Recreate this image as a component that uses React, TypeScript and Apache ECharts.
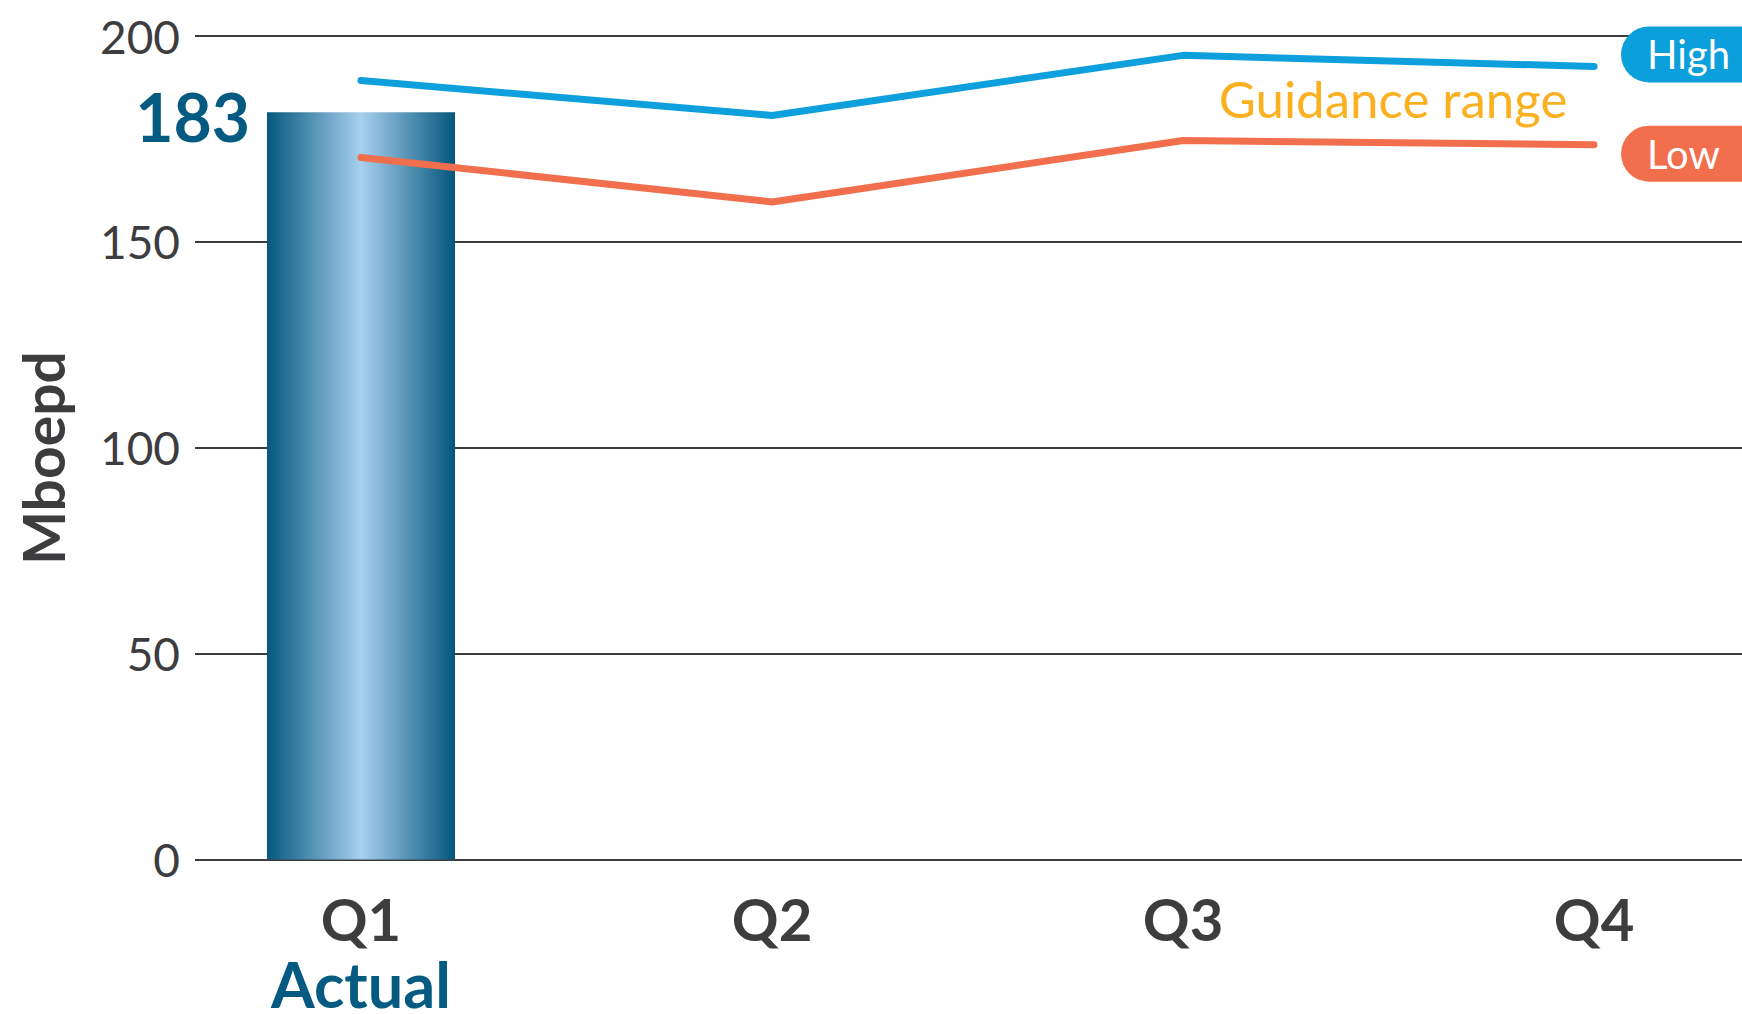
import React, { useEffect, useRef } from "react";
import * as echarts from "echarts";

const categories = ["Q1", "Q2", "Q3", "Q4"];
const actualBar = [181.5, null, null, null];
const actualLabel = "183";
const actualCaption = "Actual";
const guidanceHigh = [189.2, 180.7, 195.3, 192.6];
const guidanceLow = [170.5, 159.7, 174.6, 173.6];
const yMin = 0;
const yMax = 200;
const yInterval = 50;
const yTitle = "Mboepd";
const rangeTitle = "Guidance range";
const highName = "High";
const lowName = "Low";

const FONT = "Lato, 'Noto Sans', sans-serif";
const DARK = "#3d3d3f";
const NAVY = "#045a80";

export default function App() {
  const ref = useRef<HTMLDivElement>(null);
  useEffect(() => {
    if (!ref.current) return;
    const chart = echarts.init(ref.current, undefined, { renderer: "svg" });
    const idx = categories.map((_, i) => i);
    const toPairs = (arr: (number | null)[]) =>
      arr.map((v, i) => [i, v]).filter((p) => p[1] !== null);
    chart.setOption({
      animation: false,
      backgroundColor: "#ffffff",
      textStyle: { fontFamily: FONT },
      grid: {
        left: 195,
        right: 0,
        top: 36,
        bottom: 1014 - 859.5,
        containLabel: false,
        outerBoundsMode: "none",
      },
      xAxis: {
        type: "value",
        min: -0.4039,
        max: 3.36,
        axisLine: { show: false },
        axisTick: { show: false },
        splitLine: { show: false },
        axisLabel: {
          customValues: idx,
          margin: 23.5,
          formatter: (v: number) => {
            const i = Math.round(v);
            const name = categories[i];
            return i === 0 ? `{q|${name}}\n{a|${actualCaption}}` : `{q|${name}}`;
          },
          rich: {
            q: { fontFamily: FONT, fontSize: 58, fontWeight: "bold", color: DARK, lineHeight: 70 },
            a: { fontFamily: FONT, fontSize: 63, fontWeight: "bold", color: NAVY, lineHeight: 60 },
          },
        },
      },
      yAxis: {
        type: "value",
        min: yMin,
        max: yMax,
        interval: yInterval,
        axisLine: { show: false },
        axisTick: { show: false },
        axisLabel: { margin: 15, fontSize: 46, color: DARK, fontFamily: FONT },
        splitLine: { show: true, lineStyle: { color: DARK, width: 2 } },
      },
      series: [
        {
          type: "bar",
          data: toPairs(actualBar),
          barWidth: 188,
          itemStyle: {
            color: new echarts.graphic.LinearGradient(0, 0, 1, 0, [
              { offset: 0, color: "#05587f" },
              { offset: 0.5, color: "#a8d0ee" },
              { offset: 1, color: "#04567d" },
            ]),
          },
          label: {
            show: true,
            position: [-17, 4],
            align: "right",
            verticalAlign: "middle",
            formatter: () => actualLabel,
            fontSize: 66,
            fontWeight: "bold",
            color: NAVY,
            fontFamily: FONT,
          },
        },
        {
          type: "line",
          name: highName,
          data: toPairs(guidanceHigh),
          symbol: "none",
          lineStyle: { color: "#0ea0dc", width: 7, cap: "round", join: "round" },
          endLabel: {
            show: true,
            formatter: () => highName,
            distance: 27,
            offset: [0, -12],
            align: "left",
            verticalAlign: "middle",
            backgroundColor: "#0b9fdb",
            borderRadius: 28,
            padding: [8, 80, 8, 26],
            color: "#ffffff",
            fontSize: 40,
            lineHeight: 40,
            fontFamily: FONT,
          },
        },
        {
          type: "line",
          name: lowName,
          data: toPairs(guidanceLow),
          symbol: "none",
          lineStyle: { color: "#f26f4e", width: 7, cap: "round", join: "round" },
          endLabel: {
            show: true,
            formatter: () => lowName,
            distance: 27,
            offset: [0, 9],
            align: "left",
            verticalAlign: "middle",
            backgroundColor: "#f26f4e",
            borderRadius: 28,
            padding: [8, 80, 8, 26],
            color: "#ffffff",
            fontSize: 40,
            lineHeight: 40,
            fontFamily: FONT,
          },
        },
      ],
      graphic: [
        {
          type: "text",
          x: 43,
          y: 458,
          rotation: Math.PI / 2,
          style: {
            text: yTitle,
            fontFamily: FONT,
            fontSize: 57,
            fontWeight: "bold",
            fill: DARK,
            align: "center",
            verticalAlign: "middle",
          },
        },
        {
          type: "text",
          x: 1393,
          y: 98,
          style: {
            text: rangeTitle,
            fontFamily: FONT,
            fontSize: 51,
            fill: "#fbb01f",
            align: "center",
            verticalAlign: "middle",
          },
        },
      ],
    });
    return () => chart.dispose();
  }, []);
  return (
    <div
      ref={ref}
      style={{ position: "fixed", left: 0, top: 0, width: 1742, height: 1014 }}
    />
  );
}
